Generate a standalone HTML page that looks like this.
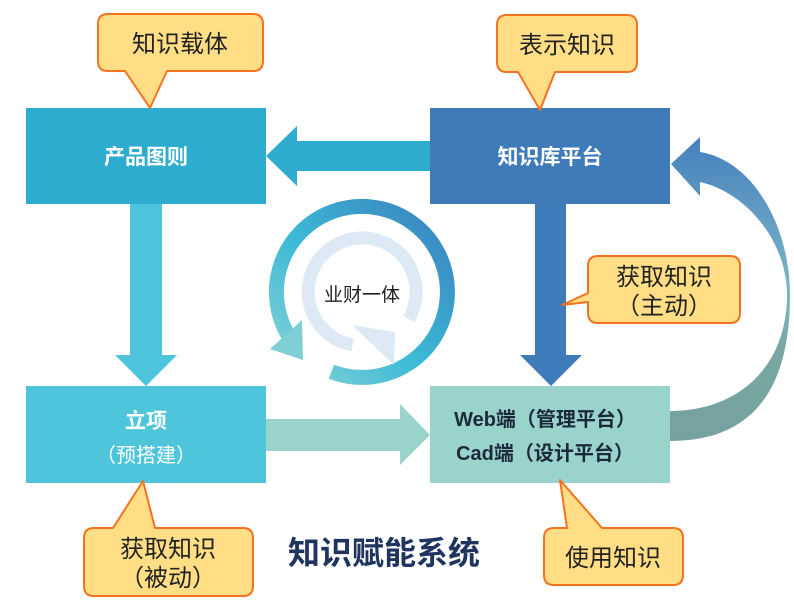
<!DOCTYPE html>
<html><head><meta charset="utf-8"><style>
html,body{margin:0;padding:0;background:#fff;}
svg{display:block;}
text{font-family:"Liberation Sans","Noto Sans CJK SC",sans-serif;}
</style></head><body>
<svg width="794" height="607" viewBox="0 0 794 607" xmlns="http://www.w3.org/2000/svg">
<defs>
<linearGradient id="cg" x1="0" y1="1" x2="1" y2="0">
<stop offset="0" stop-color="#8AD3D6"/><stop offset="0.45" stop-color="#3CBAD6"/><stop offset="1" stop-color="#3A80BE"/>
</linearGradient>
<linearGradient id="rg" x1="0" y1="0" x2="0" y2="1">
<stop offset="0" stop-color="#4680BE"/><stop offset="0.5" stop-color="#7CB6C6"/><stop offset="0.7" stop-color="#78A7A3"/><stop offset="1" stop-color="#75A19E"/>
</linearGradient>
</defs>
<polygon points="432,141 297,141 297,126 266,156 297,186 297,171 432,171" fill="#2EACCF"/>
<polygon points="130,204 162,204 162,355 177,355 146,386 115,355 130,355" fill="#4DC4DC"/>
<polygon points="535,204 566,204 566,355 582,355 551,386 520,355 535,355" fill="#3E7BBB"/>
<polygon points="266,419 400,419 400,404 430,435 400,465 400,451 266,451" fill="#9AD3CC"/>
<path d="M670,441 C760,441 790,380 790,295 C790,225 752,160 700,152 L700,137 L671,164 L700,196 L700,182 C745,192 787,240 787,295 C787,365 740,411 670,411 Z" fill="url(#rg)"/>
<rect x="26" y="108" width="240" height="96" fill="#2EACCF"/>
<rect x="430" y="108" width="240" height="96" fill="#3F7BB9"/>
<rect x="26" y="386" width="240" height="97" fill="#4FC5DC"/>
<rect x="430" y="386" width="240" height="97" fill="#9AD2CC"/>
<text x="146" y="164" font-size="21" font-weight="bold" fill="#fff" text-anchor="middle">产品图则</text>
<text x="550" y="164" font-size="21" font-weight="bold" fill="#fff" text-anchor="middle">知识库平台</text>
<text x="146" y="428" font-size="21" font-weight="bold" fill="#fff" text-anchor="middle">立项</text>
<text x="146" y="462" font-size="20" fill="#fff" text-anchor="middle">（预搭建）</text>
<text x="545" y="426" font-size="20" font-weight="bold" fill="#1B2A3A" text-anchor="middle">Web端（管理平台）</text>
<text x="545" y="460" font-size="20" font-weight="bold" fill="#1B2A3A" text-anchor="middle">Cad端（设计平台）</text>
<path d="M331.4,371.8 A85.5,85.5 0 1 0 296.5,347" fill="none" stroke="url(#cg)" stroke-width="15"/>
<polygon points="270,349 302,320 303,360" fill="#7FCFD6"/>
<path d="M408.8,319 A54,54 0 1 0 352.6,345" fill="none" stroke="#DDEAF6" stroke-width="13"/>
<polygon points="352,325 395,332 394,365" fill="#DDEAF6"/>
<text x="362" y="301" font-size="19" fill="#222" text-anchor="middle">业财一体</text>
<g fill="#FFDE85" stroke="#F57320" stroke-width="2" stroke-linejoin="round">
<path d="M108,14 H253 Q263,14 263,24 V61 Q263,71 253,71 H167 L150,108 L125,71 H108 Q98,71 98,61 V24 Q98,14 108,14 Z"/>
<path d="M507,15 H627 Q637,15 637,25 V62 Q637,72 627,72 H555 L540,110 L518,72 H507 Q497,72 497,62 V25 Q497,15 507,15 Z"/>
<path d="M598,256 H730 Q740,256 740,266 V313 Q740,323 730,323 H598 Q588,323 588,313 V302 L562,305 L588,293 V266 Q588,256 598,256 Z"/>
<path d="M94,528 H113 L143,481 L155,528 H243 Q253,528 253,538 V586 Q253,596 243,596 H94 Q84,596 84,586 V538 Q84,528 94,528 Z"/>
<path d="M554,528 H567 L560,480 L602,528 H673 Q683,528 683,538 V575 Q683,585 673,585 H554 Q544,585 544,575 V538 Q544,528 554,528 Z"/>
</g>
<g font-size="24" fill="#222" text-anchor="middle">
<text x="180" y="52">知识载体</text>
<text x="567" y="53">表示知识</text>
<text x="664" y="285">获取知识</text>
<text x="664" y="314">（主动）</text>
<text x="168" y="557">获取知识</text>
<text x="168" y="586">（被动）</text>
<text x="613" y="566">使用知识</text>
</g>
<text x="384" y="564" font-size="32" font-weight="bold" fill="#1F3560" text-anchor="middle">知识赋能系统</text>
</svg>
</body></html>
